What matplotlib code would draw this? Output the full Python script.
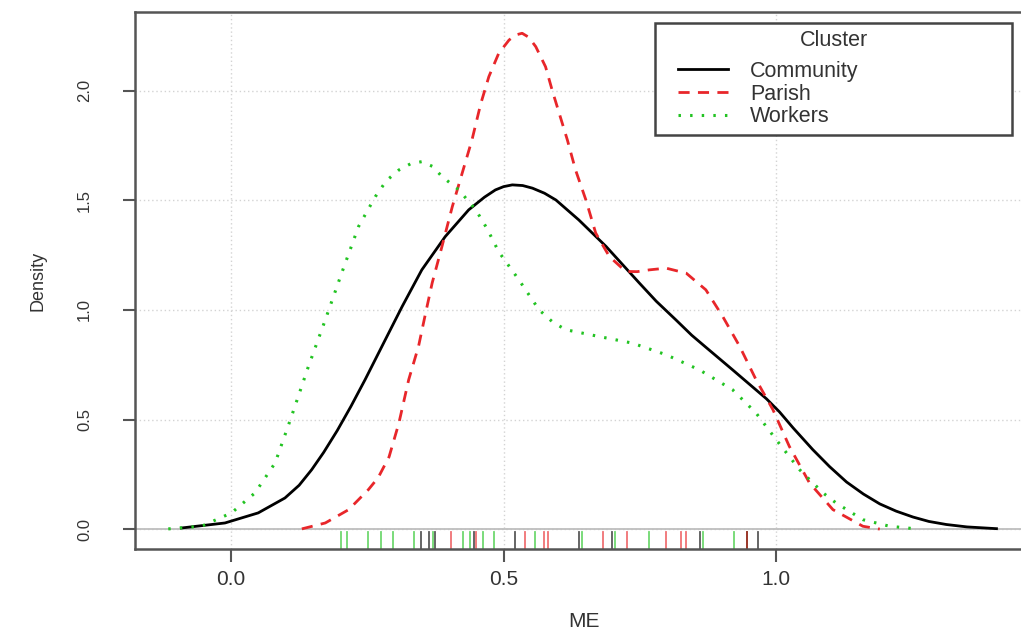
import matplotlib
matplotlib.use("Agg")
import matplotlib.pyplot as plt
from matplotlib.patches import Rectangle

# density curves (x = ME, y = density)
community_x = [-0.091, -0.011, 0.050, 0.099, 0.125, 0.148, 0.170, 0.195, 0.220, 0.246, 0.283,
               0.314, 0.350, 0.393, 0.436, 0.465, 0.485, 0.500, 0.516, 0.535, 0.553, 0.575,
               0.596, 0.638, 0.688, 0.749, 0.780, 0.816, 0.845, 0.871, 0.920, 0.982, 1.006,
               1.031, 1.067, 1.098, 1.129, 1.160, 1.190, 1.220, 1.251, 1.280, 1.312, 1.350,
               1.404]
community_y = [0.005, 0.028, 0.074, 0.142, 0.200, 0.271, 0.350, 0.450, 0.560, 0.682, 0.864,
               1.016, 1.183, 1.335, 1.457, 1.515, 1.548, 1.563, 1.571, 1.568, 1.556, 1.533,
               1.502, 1.411, 1.290, 1.123, 1.040, 0.955, 0.885, 0.830, 0.727, 0.595, 0.535,
               0.462, 0.363, 0.285, 0.215, 0.160, 0.115, 0.082, 0.055, 0.035, 0.021, 0.010,
               0.002]

parish_x = [0.130, 0.173, 0.216, 0.252, 0.270, 0.290, 0.308, 0.326, 0.344, 0.357, 0.369,
            0.387, 0.406, 0.424, 0.442, 0.458, 0.473, 0.491, 0.510, 0.522, 0.534, 0.546,
            0.559, 0.577, 0.589, 0.602, 0.617, 0.632, 0.651, 0.669, 0.694, 0.724, 0.745,
            0.767, 0.798, 0.835, 0.871, 0.902, 0.933, 0.963, 0.994, 1.024, 1.061, 1.104,
            1.159, 1.190]
parish_y = [0.001, 0.028, 0.089, 0.180, 0.235, 0.330, 0.484, 0.682, 0.834, 0.986, 1.123,
            1.290, 1.472, 1.624, 1.776, 1.940, 2.065, 2.171, 2.232, 2.255, 2.263, 2.245,
            2.202, 2.110, 2.004, 1.898, 1.776, 1.639, 1.502, 1.351, 1.244, 1.176, 1.175,
            1.183, 1.191, 1.168, 1.092, 0.970, 0.834, 0.682, 0.545, 0.378, 0.211, 0.089,
            0.013, 0.000]

workers_x = [-0.115, -0.054, 0.001, 0.044, 0.081, 0.111, 0.142, 0.173, 0.203, 0.234, 0.265,
             0.285, 0.308, 0.330, 0.350, 0.370, 0.387, 0.418, 0.449, 0.470, 0.491, 0.528,
             0.565, 0.590, 0.614, 0.675, 0.736, 0.798, 0.859, 0.920, 0.963, 1.000, 1.043,
             1.086, 1.110, 1.159, 1.208, 1.257]
workers_y = [0.001, 0.013, 0.074, 0.165, 0.302, 0.514, 0.742, 0.955, 1.168, 1.381, 1.518,
             1.590, 1.639, 1.668, 1.677, 1.655, 1.609, 1.548, 1.457, 1.370, 1.266, 1.138,
             1.001, 0.945, 0.910, 0.879, 0.849, 0.796, 0.727, 0.636, 0.530, 0.408, 0.271,
             0.165, 0.119, 0.043, 0.013, 0.001]

# rug marks (observations)
community_obs = [0.349, 0.363, 0.375, 0.445, 0.521, 0.639, 0.698, 0.860, 0.946, 0.967]
parish_obs = [0.404, 0.450, 0.540, 0.574, 0.581, 0.682, 0.727, 0.797, 0.825, 0.834, 0.946]
workers_obs = [0.201, 0.212, 0.252, 0.276, 0.298, 0.335, 0.371, 0.426, 0.439, 0.463, 0.483,
               0.558, 0.644, 0.705, 0.767, 0.866, 0.922, 0.946]

labels = ["Community", "Parish", "Workers"]
xticks = [0.0, 0.5, 1.0]
yticks = [0.0, 0.5, 1.0, 1.5, 2.0]

plt.rcParams['font.family'] = ['Liberation Sans', 'DejaVu Sans']
txt = '#333333'
red = '#e8262a'
green = '#22c322'

W, H = 1021, 636
fig = plt.figure(figsize=(W/100, H/100), dpi=100)
ax = fig.add_axes([135/W, 87/H, (1033-135)/W, (549-12)/H])
ax.set_xlim(-0.176, 1.471)
ax.set_ylim(-0.0908, 2.36)

# grid and zero line
for v in xticks:
    ax.axvline(v, color='#d3d3d3', lw=1, ls=(0, (1, 2)), zorder=0)
for v in yticks:
    ax.axhline(v, color='#d3d3d3', lw=1, ls=(0, (1, 2)), zorder=0)
ax.axhline(0, color='#bebebe', lw=1.3, zorder=1)

ax.plot(community_x, community_y, color='black', lw=2.0, label=labels[0])
ax.plot(parish_x, parish_y, color=red, lw=2.0, ls=(0, (4, 3)), label=labels[1])
ax.plot(workers_x, workers_y, color=green, lw=2.2, ls=(0, (0.8, 3)), label=labels[2])

# rugs
trans = ax.get_xaxis_transform()
for obs, c in [(workers_obs, green), (community_obs, 'black'), (parish_obs, red)]:
    for v in obs:
        ax.plot([v, v], [0, 0.032], transform=trans, color=c, lw=1.3, alpha=0.65)

ax.set_xticks(xticks)
ax.set_xticklabels(['0.0', '0.5', '1.0'])
ax.set_yticks(yticks)
ax.set_yticklabels(['0.0', '0.5', '1.0', '1.5', '2.0'], rotation=90, va='center')
ax.tick_params(axis='both', direction='out', length=9, width=1.5, colors='#555555',
               labelcolor=txt)
ax.tick_params(axis='x', labelsize=15, pad=6)
ax.tick_params(axis='y', labelsize=12, pad=22)
for s in ax.spines.values():
    s.set_color('#555555')
    s.set_linewidth(1.8)

ax.set_xlabel('ME', fontsize=15, color=txt, labelpad=17)
ax.set_ylabel('Density', fontsize=13, color=txt, labelpad=22)

# legend: frame and title drawn by hand, entries from ax.legend
ax.add_patch(Rectangle((655/W, 1-135/H), 357/W, 112/H, transform=fig.transFigure,
                       facecolor='white', edgecolor='#444444', lw=1.8,
                       clip_on=False, zorder=5))
ax.text(834/W, 1-40/H, 'Cluster', transform=fig.transFigure, ha='center', va='center',
        fontsize=15.5, color=txt, zorder=6)
leg = ax.legend(loc='upper left', bbox_to_anchor=(678/W, 1-61/H),
                bbox_transform=fig.transFigure, fontsize=15.5, frameon=False,
                handlelength=2.3, handletextpad=1.05, labelspacing=0.08,
                borderpad=0, borderaxespad=0)
leg.set_zorder(7)
for t in leg.get_texts():
    t.set_color(txt)

fig.savefig('out.png', dpi=100)
